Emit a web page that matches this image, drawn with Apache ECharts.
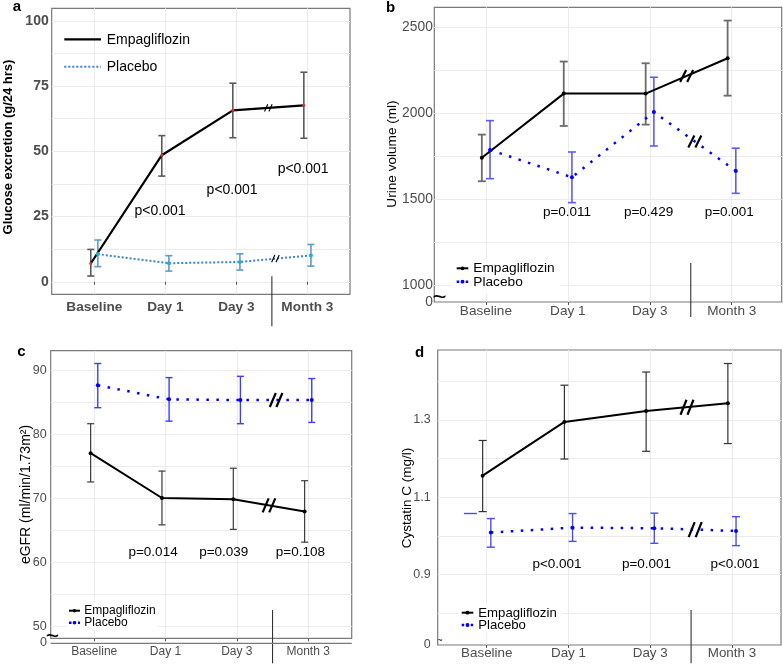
<!DOCTYPE html>
<html>
<head>
<meta charset="utf-8">
<script src="https://cdn.jsdelivr.net/npm/echarts@6/dist/echarts.min.js"></script>
<style>
html,body{margin:0;padding:0;background:#fff;}
#chart{width:783px;height:666px;}
</style>
</head>
<body>
<div id="chart"></div>
<script>
// ---------------- DATA ----------------
const categories = ['Baseline', 'Day 1', 'Day 3', 'Month 3'];

// a: Glucose excretion (g/24 hrs)
const glucoseEmpMean = [7.0, 48.5, 65.7, 67.6];
const glucoseEmpLow  = [2.2, 40.5, 55.2, 55.0];
const glucoseEmpHigh = [12.4, 56.0, 76.1, 80.3];
const glucosePlaMean = [10.6, 7.1, 7.6, 10.1];
const glucosePlaLow  = [5.8, 4.1, 4.5, 6.0];
const glucosePlaHigh = [16.0, 10.0, 10.7, 14.3];
const glucosePValues = ['p<0.001', 'p<0.001', 'p<0.001'];
const glucoseTickLabels = [0, 25, 50, 75, 100];
const glucoseGridValues = [0, 12.5, 25, 37.5, 50, 62.5, 75, 87.5, 100];

// b: Urine volume (ml)
const urineEmpMean = [1741, 2113, 2113, 2318];
const urineEmpLow  = [1604, 1925, 1933, 2101];
const urineEmpHigh = [1875, 2299, 2289, 2537];
const urinePlaMean = [1786, 1627, 2006, 1664];
const urinePlaLow  = [1619, 1480, 1809, 1534];
const urinePlaHigh = [1956, 1774, 2208, 1796];
const urinePValues = ['p=0.011', 'p=0.429', 'p=0.001'];
const urineTickLabels = [1000, 1500, 2000, 2500];
const urineGridValues = [1000, 1250, 1500, 1750, 2000, 2250, 2500];

// c: eGFR (ml/min/1.73m2)
const egfrEmpMean = [77.1, 70.1, 69.9, 68.0];
const egfrEmpLow  = [72.6, 65.9, 65.2, 63.2];
const egfrEmpHigh = [81.7, 74.3, 74.75, 72.8];
const egfrPlaMean = [87.7, 85.5, 85.4, 85.4];
const egfrPlaLow  = [84.2, 82.1, 81.7, 81.9];
const egfrPlaHigh = [91.1, 88.9, 89.1, 88.75];
const egfrPValues = ['p=0.014', 'p=0.039', 'p=0.108'];
const egfrTickLabels = [50, 60, 70, 80, 90];
const egfrGridValues = [50, 55, 60, 65, 70, 75, 80, 85, 90];

// d: Cystatin C (mg/l)
const cysEmpMean = [1.156, 1.295, 1.323, 1.343];
const cysEmpLow  = [1.063, 1.199, 1.219, 1.239];
const cysEmpHigh = [1.247, 1.390, 1.424, 1.446];
const cysPlaMean = [1.009, 1.0215, 1.020, 1.013];
const cysPlaLow  = [0.971, 0.986, 0.981, 0.975];
const cysPlaHigh = [1.045, 1.058, 1.059, 1.050];
const cysPValues = ['p<0.001', 'p=0.001', 'p<0.001'];
const cysTickLabels = [0.9, 1.1, 1.3];
const cysGridValues = [0.8, 0.9, 1.0, 1.1, 1.2, 1.3, 1.4];

// ---------------- LAYOUT / STYLE ----------------
const FONT = 'Liberation Sans, Arial, Helvetica, sans-serif';
const DODGE = 0.05;
const catIdx = [0, 1, 2, 3];

const specs = [
  {
    grid: {left: 51.7, top: 8.3, width: 298.3, height: 286},
    x: [-0.6, 3.6], y: [-4.8, 104.8], zeroOnAxis: false,
    ticks: glucoseTickLabels, gridVals: glucoseGridValues,
    emp: [glucoseEmpMean, glucoseEmpLow, glucoseEmpHigh],
    pla: [glucosePlaMean, glucosePlaLow, glucosePlaHigh],
    pvals: glucosePValues, pPos: [[0.925, 27.2], [1.94, 35.3], [2.94, 43.3]], pFont: 14,
    xLabel: {fontSize: 13.6, fontWeight: 'bold', margin: 5.5},
    yLabel: {fontSize: 14, fontWeight: 'bold', margin: 3},
    empLine: {color: '#000', width: 2.2}, plaLine: {color: '#3d7fd9', width: 2, dash: [2, 2]},
    empPt: {color: '#d9352b', size: 3}, plaPt: {color: '#1fb3c4', size: 4},
    empBar: {color: '#5a5a5a', width: 1.6, cap: 3.5}, plaBar: {color: '#5b9bd5', width: 1.6, cap: 3.5},
    brk: {dx: 1.6, dy: 3.6, gap: 2.2, width: 1.1},
    divider: {above: 18, below: 32}
  },
  {
    grid: {left: 434.3, top: 7.3, width: 347.4, height: 294.7},
    x: [-0.63, 3.61], y: [903, 2614], zeroOnAxis: true,
    ticks: urineTickLabels, gridVals: urineGridValues,
    emp: [urineEmpMean, urineEmpLow, urineEmpHigh],
    pla: [urinePlaMean, urinePlaLow, urinePlaHigh],
    pvals: urinePValues, pPos: [[0.99, 1423], [1.985, 1423], [2.97, 1423]], pFont: 13.5,
    xLabel: {fontSize: 13.6, fontWeight: 'normal', margin: 2},
    yLabel: {fontSize: 13.8, fontWeight: 'normal', margin: 1.5},
    empLine: {color: '#000', width: 2}, plaLine: {color: '#0000ff', width: 2.5, dash: [2.5, 7.5]},
    empPt: {color: '#000', size: 4}, plaPt: {color: '#0000ff', size: 4},
    empBar: {color: '#6b6b6b', width: 1.8, cap: 4}, plaBar: {color: '#5c5cff', width: 1.6, cap: 4},
    brk: {dx: 3, dy: 6, gap: 3.5, width: 2.2},
    divider: {above: 39, below: 15}
  },
  {
    grid: {left: 50.7, top: 350.7, width: 301, height: 287.6},
    x: [-0.61, 3.61], y: [48.19, 93.1], zeroOnAxis: false,
    ticks: egfrTickLabels, gridVals: egfrGridValues,
    emp: [egfrEmpMean, egfrEmpLow, egfrEmpHigh],
    pla: [egfrPlaMean, egfrPlaLow, egfrPlaHigh],
    pvals: egfrPValues, pPos: [[0.825, 61.56], [1.816, 61.56], [2.89, 61.56]], pFont: 13.5,
    xLabel: {fontSize: 12, fontWeight: 'normal', margin: 7.5},
    yLabel: {fontSize: 12.5, fontWeight: 'normal', margin: 4},
    empLine: {color: '#000', width: 2}, plaLine: {color: '#0000ff', width: 2.5, dash: [2.5, 7.5]},
    empPt: {color: '#000', size: 4}, plaPt: {color: '#0000ff', size: 4},
    empBar: {color: '#3c3c3c', width: 1.2, cap: 3.5}, plaBar: {color: '#3d3dff', width: 1.4, cap: 3.5},
    brk: {dx: 3, dy: 7, gap: 3.3, width: 2.2},
    divider: {above: 28.3, below: 25}
  },
  {
    grid: {left: 437.7, top: 350, width: 343.3, height: 295},
    x: [-0.6, 3.6], y: [0.718, 1.481], zeroOnAxis: true,
    ticks: cysTickLabels, gridVals: cysGridValues,
    emp: [cysEmpMean, cysEmpLow, cysEmpHigh],
    pla: [cysPlaMean, cysPlaLow, cysPlaHigh],
    pvals: cysPValues, pPos: [[0.86, 0.927], [1.955, 0.927], [3.037, 0.927]], pFont: 13.5,
    xLabel: {fontSize: 13.4, fontWeight: 'normal', margin: 2.3},
    yLabel: {fontSize: 12.5, fontWeight: 'normal', margin: 7},
    empLine: {color: '#000', width: 2}, plaLine: {color: '#0000ff', width: 2.5, dash: [2.5, 7.5]},
    empPt: {color: '#000', size: 4}, plaPt: {color: '#0000ff', size: 4},
    empBar: {color: '#333333', width: 1.2, cap: 4}, plaBar: {color: '#4a4aff', width: 1.4, cap: 4},
    brk: {dx: 3, dy: 7.5, gap: 3.5, width: 2.2},
    divider: {above: 35, below: 18.3}
  }
];

// ---------------- BUILD ----------------
const option = {
  animation: false,
  backgroundColor: '#fff',
  textStyle: {fontFamily: FONT},
  grid: [], xAxis: [], yAxis: [], series: [],
  graphic: {elements: []}
};

function errorBarSeries(i, name, arr, off, st) {
  return {
    type: 'custom', name: name, xAxisIndex: i, yAxisIndex: i, silent: true, z: 2,
    data: catIdx.map(k => [k + off, arr[1][k], arr[2][k]]),
    encode: {x: 0, y: [1, 2]},
    renderItem: function (params, api) {
      const x = api.value(0);
      const lo = api.coord([x, api.value(1)]);
      const hi = api.coord([x, api.value(2)]);
      const w = st.cap;
      const style = {stroke: st.color, lineWidth: st.width};
      return {type: 'group', children: [
        {type: 'line', shape: {x1: lo[0], y1: lo[1], x2: hi[0], y2: hi[1]}, style: style},
        {type: 'line', shape: {x1: lo[0] - w, y1: lo[1], x2: lo[0] + w, y2: lo[1]}, style: style},
        {type: 'line', shape: {x1: hi[0] - w, y1: hi[1], x2: hi[0] + w, y2: hi[1]}, style: style}
      ]};
    }
  };
}

function lineSeries(i, name, mean, off, ls, pt) {
  return {
    type: 'line', name: name, xAxisIndex: i, yAxisIndex: i, z: 3, silent: true,
    data: catIdx.map(k => [k + off, mean[k]]),
    symbol: 'circle', symbolSize: pt.size, showSymbol: true,
    itemStyle: {color: pt.color},
    lineStyle: {color: ls.color, width: ls.width, type: ls.dash ? ls.dash : 'solid', cap: 'butt'},
    emphasis: {disabled: true}
  };
}

function breakSeries(i, mean, off, b) {
  return {
    type: 'custom', xAxisIndex: i, yAxisIndex: i, silent: true, z: 4, clip: false,
    data: [[2.5 + off, (mean[2] + mean[3]) / 2]],
    renderItem: function (params, api) {
      const c = api.coord([api.value(0), api.value(1)]);
      const style = {stroke: '#000', lineWidth: b.width};
      return {type: 'group', children: [-b.gap, b.gap].map(s => ({
        type: 'line',
        shape: {x1: c[0] + s - b.dx, y1: c[1] + b.dy, x2: c[0] + s + b.dx, y2: c[1] - b.dy},
        style: style
      }))};
    }
  };
}

specs.forEach((s, i) => {
  option.grid.push(Object.assign({
    show: true, borderColor: '#7a7a7a', borderWidth: 1.2, backgroundColor: '#fff',
    containLabel: false, outerBoundsMode: 'none'
  }, s.grid));

  option.xAxis.push({
    type: 'value', gridIndex: i, min: s.x[0], max: s.x[1],
    axisLine: {show: false},
    axisTick: {show: true, length: 3, customValues: catIdx, lineStyle: {color: '#555', width: 1}},
    axisLabel: Object.assign({
      customValues: catIdx, color: '#4d4d4d', fontFamily: FONT,
      formatter: v => categories[Math.round(v)]
    }, s.xLabel),
    splitLine: {show: true, lineStyle: {color: '#ebebeb', width: 1}}
  });

  const labelVals = s.zeroOnAxis ? [s.y[0]].concat(s.ticks) : s.ticks.slice();
  option.yAxis.push({
    type: 'value', gridIndex: i, min: s.y[0], max: s.y[1],
    axisLine: {show: false},
    axisTick: {show: false, customValues: s.gridVals},
    axisLabel: Object.assign({
      customValues: labelVals, color: '#4d4d4d', fontFamily: FONT, showMinLabel: true,
      formatter: v => (s.zeroOnAxis && Math.abs(v - s.y[0]) < 1e-9) ? '0' : String(v)
    }, s.yLabel),
    splitLine: {show: true, lineStyle: {color: '#ebebeb', width: 1}}
  });

  option.series.push(errorBarSeries(i, 'Empagliflozin', s.emp, -DODGE, s.empBar));
  option.series.push(errorBarSeries(i, 'Placebo', s.pla, DODGE, s.plaBar));
  const empLine = lineSeries(i, 'Empagliflozin', s.emp[0], -DODGE, s.empLine, s.empPt);
  const plaLine = lineSeries(i, 'Placebo', s.pla[0], DODGE, s.plaLine, s.plaPt);
  if (i === 3) {
    // stray blue cap segment visible left of the placebo baseline bar
    plaLine.markLine = {
      silent: true, symbol: 'none', label: {show: false},
      lineStyle: {color: s.plaBar.color, width: s.plaBar.width, type: 'solid'},
      data: [[{coord: [-0.28, 1.06]}, {coord: [-0.12, 1.06]}]]
    };
  }
  option.series.push(empLine, plaLine);
  option.series.push(breakSeries(i, s.emp[0], -DODGE, s.brk));
  option.series.push(breakSeries(i, s.pla[0], DODGE, s.brk));

  // p-value annotations
  option.series.push({
    type: 'custom', xAxisIndex: i, yAxisIndex: i, silent: true, z: 5, clip: false,
    data: s.pPos.map((p, k) => [p[0], p[1], k]),
    renderItem: function (params, api) {
      const c = api.coord([api.value(0), api.value(1)]);
      return {type: 'text', x: c[0], y: c[1], style: {
        text: s.pvals[params.dataIndex], fontSize: s.pFont, fontFamily: FONT, fill: '#000',
        align: 'center', verticalAlign: 'middle'
      }};
    }
  });

  // vertical divider between Day 3 and Month 3
  option.series.push({
    type: 'custom', xAxisIndex: i, yAxisIndex: i, silent: true, z: 4, clip: false,
    data: [[2.5, s.y[0]]],
    renderItem: function (params, api) {
      const c = api.coord([api.value(0), api.value(1)]);
      const bottom = params.coordSys.y + params.coordSys.height;
      return {type: 'line', shape: {x1: c[0], y1: bottom - s.divider.above, x2: c[0], y2: bottom + s.divider.below},
        style: {stroke: '#333', lineWidth: 1.1}};
    }
  });
});

// ---------------- DECORATIONS (labels, titles, legends) ----------------
const G = option.graphic.elements;
function txt(x, y, text, size, opts) {
  opts = opts || {};
  G.push({type: 'text', x: x, y: y, rotation: opts.rotation || 0, z: opts.z || 20, silent: true,
    style: {text: text, fontSize: size, fontFamily: FONT, fontWeight: opts.weight || 'normal',
      fill: opts.fill || '#000', align: opts.align || 'center', verticalAlign: 'middle',
      textAlign: opts.align || 'center', textVerticalAlign: 'middle'}});
}
function seg(x1, y1, x2, y2, stroke, w, dash) {
  G.push({type: 'line', z: 21, silent: true, shape: {x1: x1, y1: y1, x2: x2, y2: y2},
    style: {stroke: stroke, lineWidth: w, lineDash: dash || null}});
}
function dot(cx, cy, r, fill) {
  G.push({type: 'circle', z: 22, silent: true, shape: {cx: cx, cy: cy, r: r}, style: {fill: fill}});
}
function box(x, y, w, h) {
  G.push({type: 'rect', z: 19, silent: true, shape: {x: x, y: y, width: w, height: h}, style: {fill: '#fff'}});
}

// panel letters
txt(17, 6.5, 'a', 15, {weight: 'bold'});
txt(390.5, 7.5, 'b', 15, {weight: 'bold'});
txt(21.3, 351.5, 'c', 15, {weight: 'bold'});
txt(419.5, 352.5, 'd', 15, {weight: 'bold'});

// y-axis titles
const R = Math.PI / 2;
txt(8.5, 147, 'Glucose excretion (g/24 hrs)', 13, {weight: 'bold', rotation: R});
txt(392, 154, 'Urine volume (ml)', 13.6, {rotation: R});
txt(26.5, 494.5, 'eGFR (ml/min/1.73m²)', 14, {rotation: R});
txt(407, 498, 'Cystatin C (mg/l)', 13.5, {rotation: R});

// broken-axis "0" of panel c (sits on the lower of its two bottom lines)
txt(47, 642.7, '0', 12.5, {align: 'right', fill: '#4d4d4d'});

// axis-break tildes
txt(439.5, 298, '~', 24);
txt(52.5, 637.5, '~', 23);
txt(440, 641, '~', 9);

// extra bottom line in panel c
seg(50.7, 643.3, 351.7, 643.3, '#7a7a7a', 1.2);

// legend a
seg(64.3, 39.3, 101, 39.3, '#000', 2.2);
txt(106.7, 39.8, 'Empagliflozin', 14, {align: 'left'});
seg(64.3, 66.7, 101, 66.7, '#3d7fd9', 2, [2, 2]);
txt(106.7, 67.2, 'Placebo', 14, {align: 'left'});

// legend b
box(453, 259, 107, 34);
seg(456.7, 268.3, 468.3, 268.3, '#000', 2);
dot(462.5, 268.3, 1.9, '#000');
txt(473.3, 268.6, 'Empagliflozin', 13.7, {align: 'left'});
seg(456.7, 281.7, 468.3, 281.7, '#0000ff', 2.5, [2.5, 2]);
dot(462.5, 281.7, 1.9, '#0000ff');
txt(473.3, 282, 'Placebo', 13.7, {align: 'left'});

// legend c
box(66, 603, 92, 27);
seg(69, 610.7, 80, 610.7, '#000', 2);
dot(74.5, 610.7, 1.8, '#000');
txt(84.3, 611, 'Empagliflozin', 12, {align: 'left'});
seg(69, 622.7, 80, 622.7, '#0000ff', 2.5, [2.5, 2]);
dot(74.5, 622.7, 1.8, '#0000ff');
txt(84.3, 623, 'Placebo', 12, {align: 'left'});

// legend d
box(458, 604, 104, 29);
seg(461.7, 612.7, 473.3, 612.7, '#000', 2);
dot(467.5, 612.7, 1.9, '#000');
txt(478.3, 613, 'Empagliflozin', 13.2, {align: 'left'});
seg(461.7, 625, 473.3, 625, '#0000ff', 2.5, [2.5, 2]);
dot(467.5, 625, 1.9, '#0000ff');
txt(478.3, 625.3, 'Placebo', 13.2, {align: 'left'});

const chart = echarts.init(document.getElementById('chart'), null, {renderer: 'canvas', width: 783, height: 666});
chart.setOption(option);
</script>
</body>
</html>
